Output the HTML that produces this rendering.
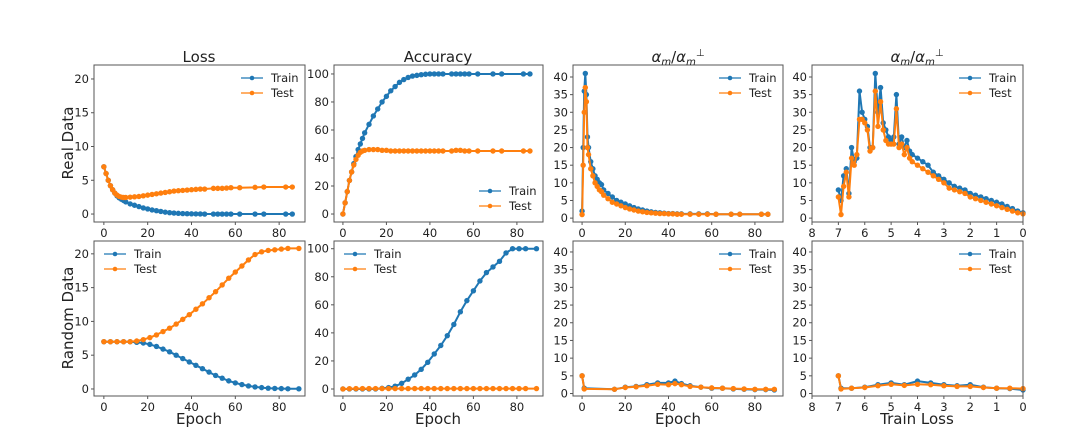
<!DOCTYPE html>
<html><head><meta charset="utf-8"><style>
body{margin:0;background:#fff;width:1080px;height:433px;overflow:hidden}
svg text{font-family:"DejaVu Sans","Liberation Sans",sans-serif;fill:#222}
</style></head><body>
<svg id="fig" width="1080" height="433" xmlns="http://www.w3.org/2000/svg"></svg>
<script>
// ---- data ----
const epTop=[0,1,2,3,4,5,6,7,8,9,10,12,14,16,18,20,22,24,26,28,30,32,34,36,38,40,42,44,46,50,52,54,56,58,62,69,73,83,86];
const lossTrainReal=[7,6,5,4.2,3.6,3.1,2.7,2.4,2.2,2.0,1.8,1.5,1.3,1.1,0.9,0.75,0.6,0.5,0.38,0.28,0.2,0.14,0.1,0.07,0.05,0.03,0.02,0.01,0,0,0,0,0,0,0,0,0,0,0];
const lossTestReal=[7,6,5,4.2,3.6,3.1,2.8,2.6,2.5,2.45,2.45,2.5,2.55,2.6,2.7,2.8,2.9,3.0,3.1,3.2,3.3,3.4,3.45,3.5,3.55,3.6,3.65,3.7,3.7,3.8,3.8,3.8,3.85,3.9,3.9,3.95,4.0,4.0,4.0];
const accTrainReal=[0,8,16,24,30,36,41,46,50,54,58,64,70,75,80,84,88,91,94,96,97.5,98.5,99,99.5,99.8,100,100,100,100,100,100,100,100,100,100,100,100,100,100];
const accTestReal=[0,8,16,24,30,35,39,42,44,45,45.5,46,46,46,45.5,45.5,45,45,45,45,45,45,45,45,45,45,45,45,45,45,45.5,45.5,45,45,45,45,45,45,45];
const epAlpha=[0,0.5,1,1.5,2,2.5,3,4,5,6,7,8,9,10,12,14,16,18,20,22,24,26,28,30,32,34,36,38,40,42,44,46,50,54,58,62,69,73,83,86];
const alphaTrainReal=[2,20,36,41,35,23,20,16,14,12,11,10,9.5,8,7,6,5,4.5,4,3.5,3,2.6,2.3,2,1.8,1.6,1.5,1.4,1.3,1.3,1.2,1.2,1.2,1.2,1.2,1.1,1.1,1.1,1.1,1.1];
const alphaTestReal=[1,15,30,37,33,20,18,14,12,10,9,8,7.5,6.5,5.5,4.5,4,3.5,3,2.6,2.3,2.0,1.8,1.6,1.5,1.4,1.3,1.3,1.2,1.2,1.1,1.1,1.1,1.1,1.1,1.1,1.1,1.1,1.1,1.1];
const tlReal=[7,6.9,6.8,6.7,6.6,6.5,6.4,6.3,6.2,6.1,6.0,5.9,5.8,5.7,5.6,5.5,5.4,5.3,5.2,5.1,5.0,4.9,4.8,4.7,4.6,4.5,4.4,4.3,4.2,4.0,3.8,3.6,3.4,3.2,3.0,2.8,2.6,2.4,2.2,2.0,1.8,1.6,1.4,1.2,1.0,0.8,0.6,0.4,0.2,0];
const alphaTlTrainReal=[8,5,12,14,7,20,16,17,36,30,28,26,20,20,41,30,37,27,25,23,22,23,35,21,23,20,22,19,18,17,16,15,13,12,11,10,9,8.5,8,7,6.5,6,5.5,5,4.5,4,3.3,2.7,2,1.5];
const alphaTlTestReal=[6,1,9,13,6,17,15,18,28,28,27,25,19,20,36,26,33,25,22,21,21,21,31,20,21,18,20,17,16,15,14,13,12,11,10,8.5,8,7.5,7,6,5.5,5,4.5,4,3.5,3,2.5,2,1.5,1.2];
const epBot=[0,3,6,9,12,15,18,21,24,27,30,33,36,39,42,45,48,51,54,57,60,63,66,69,72,75,78,81,84,89];
const lossTrainRand=[7,7,7,7,7,6.9,6.8,6.6,6.3,5.9,5.5,5.0,4.5,4.0,3.5,3.0,2.5,2.0,1.6,1.2,0.9,0.65,0.45,0.3,0.2,0.12,0.08,0.05,0.03,0.02];
const lossTestRand=[7,7,7,7,7,7.1,7.3,7.6,8.0,8.5,9.0,9.6,10.3,11.0,11.8,12.6,13.5,14.4,15.4,16.4,17.3,18.2,19.1,19.9,20.3,20.5,20.6,20.7,20.8,20.8];
const accTrainRand=[0,0,0,0,0,0,0.5,1,2,4,7,10,14,19,25,31,38,46,55,63,70,77,83,87,91,97,100,100,100,100];
const accTestRand=[0,0.2,0.3,0.3,0.3,0.3,0.3,0.3,0.3,0.3,0.3,0.3,0.3,0.3,0.3,0.3,0.3,0.3,0.3,0.3,0.3,0.3,0.3,0.3,0.3,0.3,0.3,0.3,0.3,0.3];
const epAlphaRand=[0,1,15,20,25,30,35,40,43,46,50,55,60,65,70,75,80,85,89];
const alphaTrainRand=[5,1.5,1.2,1.8,2,2.5,3,3,3.5,2.8,2.2,1.8,1.5,1.5,1.3,1.2,1.1,1.1,1.0];
const alphaTestRand=[5,1.3,1.2,1.7,1.9,2.2,2.6,2.5,2.8,2.5,2.0,1.8,1.6,1.5,1.4,1.3,1.2,1.2,1.2];
const tlRand=[7,6.9,6.5,6,5.5,5,4.5,4,3.5,3,2.5,2,1.5,1,0.5,0];
const alphaTlTrainRand=[5,1.5,1.5,1.8,2.5,3,2.5,3.5,3,2.5,2.2,2.5,1.8,1.5,1.4,1.0];
const alphaTlTestRand=[5,1.3,1.5,1.7,2.2,2.6,2.3,2.6,2.5,2.2,2.0,2.0,1.7,1.5,1.5,1.4];
const ticksEpoch=[0,20,40,60,80];
const ticksLossTop=[0,5,10,15,20];
const ticksAcc=[0,20,40,60,80,100];
const ticksAlpha=[0,5,10,15,20,25,30,35,40];
const ticksTl=[8,7,6,5,4,3,2,1,0];

const NS="http://www.w3.org/2000/svg";
const svg=document.getElementById('fig');
function el(tag,attrs,parent){const e=document.createElementNS(NS,tag);for(const k in attrs)e.setAttribute(k,attrs[k]);(parent||svg).appendChild(e);return e;}
const BLUE="#1f77b4",ORANGE="#ff7f0e";

function panel(name,box,xd,yd,xt,yt,series,legendPos){
  const [L,T,R,B]=box;
  const g=el('g',{});
  
  
  const sx=v=>L+(v-xd[0])/(xd[1]-xd[0])*(R-L);
  const sy=v=>B-(v-yd[0])/(yd[1]-yd[0])*(B-T);
  series.forEach(s=>{
    const sg=el('g',{},g);
    
    
    const pts=s.x.map((x,i)=>sx(x).toFixed(1)+','+sy(s.y[i]).toFixed(1)).join(' ');
    el('polyline',{points:pts,fill:'none',stroke:s.c,'stroke-width':2,'stroke-linejoin':'round'},sg);
    s.x.forEach((x,i)=>{const c=el('circle',{cx:sx(x),cy:sy(s.y[i]),r:2.7,fill:s.c},sg);
      
      });
  });
  el('rect',{x:L,y:T,width:R-L,height:B-T,fill:'none',stroke:'#555','stroke-width':1},g);
  xt.forEach(v=>{const x=sx(v);el('line',{x1:x,x2:x,y1:B,y2:B+3,stroke:'#555'},g);
    const t=el('text',{x:x,y:B+15,'font-size':11.5,'text-anchor':'middle'},g);t.textContent=v;
    });
  yt.forEach(v=>{const y=sy(v);el('line',{x1:L-3,x2:L,y1:y,y2:y,stroke:'#555'},g);
    const t=el('text',{x:L-5,y:y+4,'font-size':11.5,'text-anchor':'end'},g);t.textContent=v;
    });
  let lx,ly;
  if(legendPos==='tr'){lx=R-64;ly=T+13;}else if(legendPos==='br'){lx=R-64;ly=B-31;}else{lx=L+10;ly=T+13;}
  const lg=el('g',{},g);
  
  
  [['Train',BLUE],['Test',ORANGE]].forEach((it,i)=>{
    const y=ly+i*15;
    el('line',{x1:lx,x2:lx+22,y1:y,y2:y,stroke:it[1],'stroke-width':1.3},lg);
    el('circle',{cx:lx+11,cy:y,r:2.3,fill:it[1]},lg);
    const t=el('text',{x:lx+30,y:y+4,'font-size':11.5},lg);t.textContent=it[0];
    
  });
}
function txt(s,x,y,size,name,rot){const t=el('text',{x:x,y:y,'font-size':size,'text-anchor':'middle'});
  if(rot)t.setAttribute('transform','rotate(-90 '+x+' '+y+')');t.innerHTML=s;
  }

const cols=[[94,305],[334,543],[573,783],[812,1023]];
const rowTop=[65,222],rowBot=[241,396];
panel('loss-real',[cols[0][0],rowTop[0],cols[0][1],rowTop[1]],[-4.5,91.8],[-1.18,22.07],ticksEpoch,ticksLossTop,
 [{name:'train',x:epTop,y:lossTrainReal,c:BLUE},{name:'test',x:epTop,y:lossTestReal,c:ORANGE}],'tr');
panel('accuracy-real',[cols[1][0],rowTop[0],cols[1][1],rowTop[1]],[-4.1,92],[-5.7,106.4],ticksEpoch,ticksAcc,
 [{name:'train',x:epTop,y:accTrainReal,c:BLUE},{name:'test',x:epTop,y:accTestReal,c:ORANGE}],'br');
panel('alpha-epoch-real',[cols[2][0],rowTop[0],cols[2][1],rowTop[1]],[-4.2,93],[-1.1,43.4],ticksEpoch,ticksAlpha,
 [{name:'train',x:epAlpha,y:alphaTrainReal,c:BLUE},{name:'test',x:epAlpha,y:alphaTestReal,c:ORANGE}],'tr');
panel('alpha-trainloss-real',[cols[3][0],rowTop[0],cols[3][1],rowTop[1]],[8,0],[-1.1,43.4],ticksTl,ticksAlpha,
 [{name:'train',x:tlReal,y:alphaTlTrainReal,c:BLUE},{name:'test',x:tlReal,y:alphaTlTestReal,c:ORANGE}],'tr');
panel('loss-random',[cols[0][0],rowBot[0],cols[0][1],rowBot[1]],[-4.5,91.8],[-1.04,21.9],ticksEpoch,ticksLossTop,
 [{name:'train',x:epBot,y:lossTrainRand,c:BLUE},{name:'test',x:epBot,y:lossTestRand,c:ORANGE}],'tl');
panel('accuracy-random',[cols[1][0],rowBot[0],cols[1][1],rowBot[1]],[-4.1,92],[-5,105.5],ticksEpoch,ticksAcc,
 [{name:'train',x:epBot,y:accTrainRand,c:BLUE},{name:'test',x:epBot,y:accTestRand,c:ORANGE}],'tl');
panel('alpha-epoch-random',[cols[2][0],rowBot[0],cols[2][1],rowBot[1]],[-4.2,93],[-0.7,43.1],ticksEpoch,ticksAlpha,
 [{name:'train',x:epAlphaRand,y:alphaTrainRand,c:BLUE},{name:'test',x:epAlphaRand,y:alphaTestRand,c:ORANGE}],'tr');
panel('alpha-trainloss-random',[cols[3][0],rowBot[0],cols[3][1],rowBot[1]],[8,0],[-0.7,43.1],ticksTl,ticksAlpha,
 [{name:'train',x:tlRand,y:alphaTlTrainRand,c:BLUE},{name:'test',x:tlRand,y:alphaTlTestRand,c:ORANGE}],'tr');

txt('Loss',199,62,15,'title-loss');
txt('Accuracy',438,62,15,'title-accuracy');
txt('<tspan font-style="italic">α<tspan font-size="10" dy="3">m</tspan></tspan><tspan dy="-3">/</tspan><tspan font-style="italic">α<tspan font-size="10" dy="3">m</tspan><tspan font-size="10" dy="-9">⊥</tspan></tspan>',678,62,15,'title-alpha-epoch');
txt('<tspan font-style="italic">α<tspan font-size="10" dy="3">m</tspan></tspan><tspan dy="-3">/</tspan><tspan font-style="italic">α<tspan font-size="10" dy="3">m</tspan><tspan font-size="10" dy="-9">⊥</tspan></tspan>',917,62,15,'title-alpha-trainloss');
txt('Real Data',73,143,15,'row-label-real',true);
txt('Random Data',73,318,15,'row-label-random',true);
txt('Epoch',199,424,15,'x-axis-title-loss');
txt('Epoch',438,424,15,'x-axis-title-accuracy');
txt('Epoch',678,424,15,'x-axis-title-alpha');
txt('Train Loss',917,424,15,'x-axis-title-trainloss');
</script>
</body></html>
